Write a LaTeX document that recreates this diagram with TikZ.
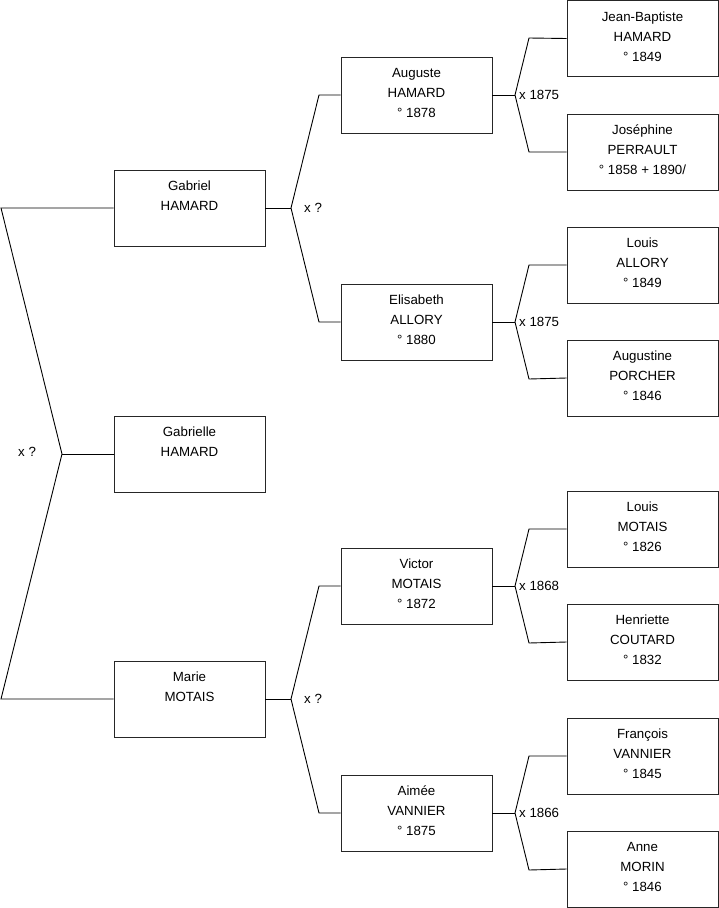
\documentclass[tikz,border=0pt]{standalone}
\usepackage{fontspec}
\setmainfont{Liberation Sans}
\newcommand\ptxt[1]{\parbox[c][76pt][t]{151pt}{\fontsize{13.3}{20}\selectfont\centering\rule{0pt}{20.8pt}#1}}
\begin{document}
\begin{tikzpicture}[x=1pt,y=-1pt,
  person/.style={draw=black!85,line width=0.9pt,inner sep=0pt,minimum width=151pt,minimum height=76pt},
  link/.style={draw=black,line width=0.9pt},
  wed/.style={anchor=west,inner sep=0pt,font=\fontsize{13.3}{15}\selectfont}]
\useasboundingbox (0,0) rectangle (719,908);
% level 1
\node[person] (gab) at (189.5,208) {\ptxt{Gabriel\\HAMARD}};
\node[person] (gle) at (189.5,454) {\ptxt{Gabrielle\\HAMARD}};
\node[person] (mar) at (189.5,699) {\ptxt{Marie\\MOTAIS}};
% level 2
\node[person] (aug) at (416.5,95) {\ptxt{Auguste\\HAMARD\\° 1878}};
\node[person] (eli) at (416.5,322) {\ptxt{Elisabeth\\ALLORY\\° 1880}};
\node[person] (vic) at (416.5,586) {\ptxt{Victor\\MOTAIS\\° 1872}};
\node[person] (aim) at (416.5,813) {\ptxt{Aimée\\VANNIER\\° 1875}};
% level 3
\node[person] (jb) at (642.5,38.5) {\ptxt{Jean-Baptiste\\HAMARD\\° 1849}};
\node[person] (jos) at (642.5,152) {\ptxt{Joséphine\\PERRAULT\\° 1858 + 1890/}};
\node[person] (lal) at (642.5,265) {\ptxt{Louis\\ALLORY\\° 1849}};
\node[person] (apo) at (642.5,378) {\ptxt{Augustine\\PORCHER\\° 1846}};
\node[person] (lmo) at (642.5,529) {\ptxt{Louis\\MOTAIS\\° 1826}};
\node[person] (hco) at (642.5,642) {\ptxt{Henriette\\COUTARD\\° 1832}};
\node[person] (fva) at (642.5,756) {\ptxt{François\\VANNIER\\° 1845}};
\node[person] (amo) at (642.5,869) {\ptxt{Anne\\MORIN\\° 1846}};
% junctions
\coordinate (j0) at (62,454);
\coordinate (c0a) at (1,208);
\coordinate (c0b) at (1,699);
\draw[link] (gab.west) -- (c0a) -- (j0) -- (c0b) -- (mar.west);
\draw[link] (j0) -- (gle.west);
\node[wed] (w0) at (18,452) {x ?};
% gen 1 -> 2
\coordinate (j1) at (291,208);
\coordinate (c1a) at (319,95);
\coordinate (c1b) at (319,322);
\draw[link] (gab.east) -- (j1);
\draw[link] (aug.west) -- (c1a) -- (j1) -- (c1b) -- (eli.west);
\node[wed] (w1) at (304,208) {x ?};
\coordinate (j2) at (291,699);
\coordinate (c2a) at (319,586);
\coordinate (c2b) at (319,813);
\draw[link] (mar.east) -- (j2);
\draw[link] (vic.west) -- (c2a) -- (j2) -- (c2b) -- (aim.west);
\node[wed] (w2) at (304,699) {x ?};
% gen 2 -> 3
\foreach \p/\a/\b/\y/\t in {aug/jb/jos/95/1875, eli/lal/apo/322/1875, vic/lmo/hco/586/1868, aim/fva/amo/813/1866}{
  \coordinate (j\p) at (515,\y);
  \coordinate (ca\p) at (529,\y-57);
  \coordinate (cb\p) at (529,\y+57);
  \draw[link] (\p.east) -- (j\p);
  \draw[link] (\a.west) -- (ca\p) -- (j\p) -- (cb\p) -- (\b.west);
  \node[wed] (w\p) at (519,\y) {x \t};
}
\end{tikzpicture}
\end{document}
